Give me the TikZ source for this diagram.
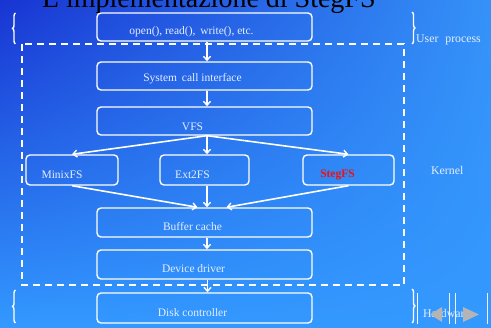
\documentclass[tikz,border=0pt]{standalone}
\usepackage{fontspec}
\setmainfont{Liberation Serif}
\usetikzlibrary{arrows.meta,decorations.pathreplacing,shadings}
\definecolor{bgdark}{HTML}{1834D2}
\definecolor{bglight}{HTML}{3399FF}
\definecolor{bgmid}{HTML}{3592F8}
\definecolor{txtc}{HTML}{E6EEFF}
\definecolor{stegred}{HTML}{F01010}
\definecolor{navgrey}{HTML}{B4B4B4}
\tikzset{
  boxnode/.style={draw=white,line width=1.4pt,rounded corners=4pt,minimum height=28pt,inner sep=0pt},
  boxtext/.style={text=txtc,font=\fontsize{11.5}{13}\selectfont,inner sep=0pt},
  flow/.style={draw=white,line width=1.6pt,-{Straight Barb[length=4pt,width=7pt,line width=1.4pt]}},
  dashbox/.style={draw=white,line width=1.6pt,dash pattern=on 7pt off 5pt},
  bracel/.style={draw=white,line width=1.4pt,decorate,decoration={brace,amplitude=3pt}},
  sidetext/.style={text=txtc,font=\fontsize{11.8}{13}\selectfont,inner sep=0pt},
}
\begin{document}
\begin{tikzpicture}[x=1pt,y=-1pt]
\useasboundingbox (0,0) rectangle (491,328);
\shade[upper left=bgdark,upper right=bgmid,lower left=bglight,lower right=bglight] (0,0) rectangle (491,328);
\begin{scope}
\clip (0,0) rectangle (491,328);
\node[anchor=base west,inner sep=0pt,font=\fontsize{28}{30}\selectfont,text=black] (title) at (42,8) {L'implementazione di StegFS};
\end{scope}
% boxes
\node[boxnode,minimum width=215pt] (sys0) at (204.5,27) {};
\node[boxnode,minimum width=215pt] (sci) at (204.5,76) {};
\node[boxnode,minimum width=215pt] (vfs) at (204.5,121) {};
\node[boxnode,minimum width=92pt,minimum height=30pt] (minix) at (72,170) {};
\node[boxnode,minimum width=89pt,minimum height=30pt] (ext2) at (204.5,170) {};
\node[boxnode,minimum width=91pt,minimum height=30pt] (steg) at (348.5,170) {};
\node[boxnode,minimum width=215pt,minimum height=29pt] (buf) at (204.5,222.5) {};
\node[boxnode,minimum width=215pt,minimum height=29pt] (dev) at (204.5,264.5) {};
\node[boxnode,minimum width=215pt,minimum height=30pt] (disk) at (204.5,308) {};
% texts
\node[boxtext] (t0) at ([shift={(-13pt,-5pt)}]sys0.center) {open(), read(),\, write(), etc.};
\node[boxtext] (t1) at ([shift={(-12pt,-3pt)}]sci.center) {System\, call interface};
\node[boxtext] (t2) at ([shift={(-12pt,-6pt)}]vfs.center) {VFS};
\node[boxtext] (t3) at ([shift={(-10pt,-5pt)}]minix.center) {MinixFS};
\node[boxtext] (t4) at ([shift={(-12pt,-5pt)}]ext2.center) {Ext2FS};
\node[boxtext,text=stegred,font=\fontsize{11.5}{13}\selectfont\bfseries] (t5) at ([shift={(-11pt,-5pt)}]steg.center) {StegFS};
\node[boxtext] (t6) at ([shift={(-12pt,-4.5pt)}]buf.center) {Buffer cache};
\node[boxtext] (t7) at ([shift={(-11pt,-4.5pt)}]dev.center) {Device driver};
\node[boxtext] (t8) at ([shift={(-12pt,-5pt)}]disk.center) {Disk controller};
% dashed kernel box
\coordinate (k1) at (22,44);
\coordinate (k2) at (404,285);
\draw[dashbox] (k1) rectangle (k2);
% connectors
\draw[flow] ([xshift=2.5pt]sys0.south) -- ([xshift=2.5pt]sci.north);
\draw[flow] ([xshift=2.5pt]sci.south) -- ([xshift=2.5pt]vfs.north);
\draw[flow] ([xshift=2.5pt]vfs.south) -- ([xshift=2.5pt]ext2.north);
\draw[flow] ([xshift=2.5pt]vfs.south) -- (minix.north);
\draw[flow] ([xshift=2.5pt]vfs.south) -- (steg.north);
\draw[flow] (minix.south) -- ([xshift=-7pt]buf.north);
\draw[flow] ([xshift=2.5pt]ext2.south) -- ([xshift=2.5pt]buf.north);
\draw[flow] (steg.south) -- ([xshift=22pt]buf.north);
\draw[flow] ([xshift=2.5pt]buf.south) -- ([xshift=2.5pt]dev.north);
\draw[flow] ([xshift=3pt]dev.south) -- ([xshift=3pt]disk.north);
% braces
\coordinate (bl1) at (15.5,44);
\coordinate (bl2) at (15.5,13);
\coordinate (br1) at (412,12);
\coordinate (br2) at (412,44);
\coordinate (bl3) at (15.5,323);
\coordinate (bl4) at (15.5,290);
\coordinate (br3) at (412,289);
\coordinate (br4) at (412,323);
\draw[bracel] (bl1) -- (bl2);
\draw[bracel] (br1) -- (br2);
\draw[bracel] (bl3) -- (bl4);
\draw[bracel] (br3) -- (br4);
% side labels
\node[sidetext,anchor=base west] (up) at (416,43) {User\,\, process};
\node[sidetext,anchor=base west] (kern) at (431,175) {Kernel};
\node[sidetext,anchor=base west] (hw) at (423,318) {Hardware};
% navigation symbols
\draw[white,line width=0.8pt] (417.5,293) -- (417.5,324);
\draw[white!80!navgrey,line width=0.6pt] (449,293) -- (449,324);
\draw[white!80!navgrey,line width=0.6pt] (455,293) -- (455,324);
\draw[white!80!navgrey,line width=0.6pt] (487,293) -- (487,324);
\fill[navgrey] (430,314.5) -- (442,307) -- (442,322) -- cycle;
\fill[navgrey] (479,314.5) -- (463,307) -- (463,322) -- cycle;
\end{tikzpicture}
\end{document}
